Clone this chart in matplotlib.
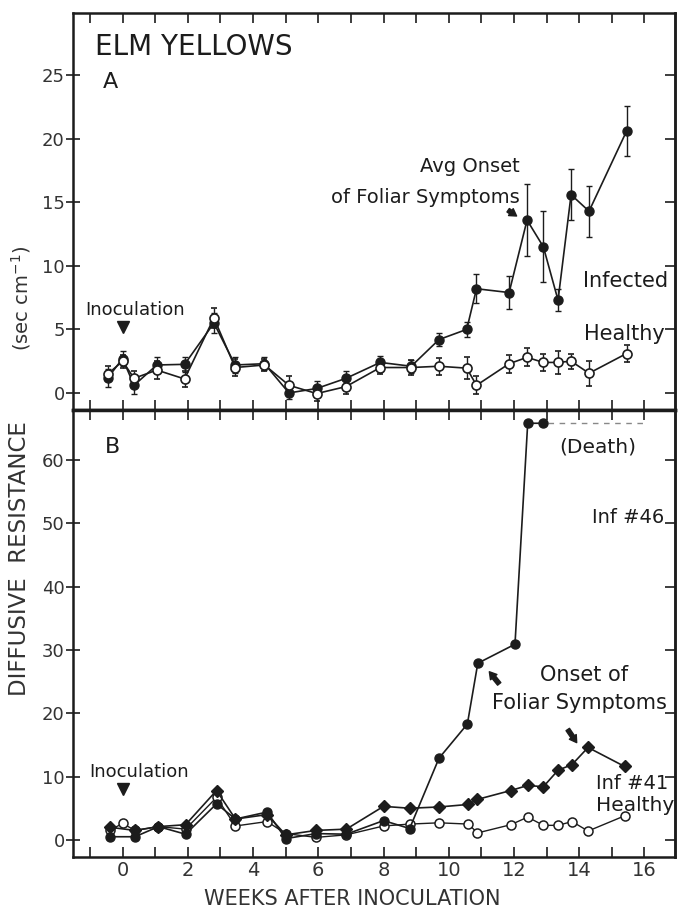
import numpy as np
import matplotlib
matplotlib.use('Agg')
from matplotlib import pyplot as plt

plt.rcParams['font.family'] = ['DejaVu Sans']

ink = '#1c1c1c'

# panel A: mean of infected / healthy trees, weeks after inoculation
weeks_a = [-0.45, 0, 0.35, 1.05, 1.9, 2.8, 3.45, 4.35, 5.1, 5.95, 6.85, 7.9,
           8.85, 9.7, 10.55, 10.85, 11.85, 12.4, 12.9, 13.35, 13.75, 14.3, 15.45]
infected_a = [1.2, 2.7, 0.6, 2.2, 2.25, 5.5, 2.2, 2.3, 0.0, 0.35, 1.15, 2.4,
              2.1, 4.2, 5.0, 8.2, 7.9, 13.6, 11.5, 7.3, 15.6, 14.3, 20.6]
infected_a_err = [0.7, 0.6, 0.7, 0.6, 0.6, 0.8, 0.6, 0.5, 0.5, 0.6, 0.6, 0.5,
                  0.5, 0.5, 0.6, 1.15, 1.3, 2.85, 2.8, 0.85, 2.0, 2.0, 1.95]
healthy_a = [1.5, 2.5, 1.15, 1.8, 1.1, 5.9, 2.0, 2.2, 0.6, -0.05, 0.5, 2.0,
             2.0, 2.1, 1.95, 0.6, 2.3, 2.8, 2.4, 2.4, 2.5, 1.55, 3.1]
healthy_a_err = [0.6, 0.5, 0.6, 0.7, 0.6, 0.8, 0.7, 0.5, 0.7, 0.6, 0.6, 0.5,
                 0.6, 0.65, 0.85, 0.7, 0.7, 0.7, 0.7, 0.9, 0.6, 1.0, 0.65]

# panel B: single trees
weeks_46 = [-0.4, 0.38, 1.1, 1.93, 2.88, 3.46, 4.43, 5.0, 5.93, 6.86, 8.0,
            8.8, 9.7, 10.57, 10.89, 12.03, 12.42, 12.9]
inf_46 = [0.5, 0.5, 2.1, 0.9, 5.7, 3.3, 4.4, 0.2, 1.0, 0.9, 3.05,
          1.8, 12.9, 18.3, 27.9, 30.9, 65.8, 65.8]
weeks_41 = [-0.4, 0.38, 1.1, 1.93, 2.88, 3.46, 4.43, 5.0, 5.93, 6.86, 8.0,
            8.8, 9.7, 10.6, 10.88, 11.9, 12.42, 12.9, 13.35, 13.78, 14.27, 15.39]
inf_41 = [2.0, 1.5, 2.1, 2.4, 7.8, 3.3, 4.0, 0.8, 1.5, 1.7, 5.3,
          5.0, 5.2, 5.6, 6.4, 7.8, 8.6, 8.4, 11.0, 11.9, 14.6, 11.6]
weeks_h = [-0.4, 0, 0.38, 1.1, 1.93, 2.88, 3.46, 4.43, 5.0, 5.93, 6.86, 8.0,
           8.8, 9.7, 10.6, 10.88, 11.9, 12.42, 12.9, 13.35, 13.78, 14.27, 15.39]
healthy_b = [1.5, 2.6, 1.5, 2.1, 1.7, 6.7, 2.2, 2.9, 1.0, 0.4, 0.8, 2.2,
             2.5, 2.7, 2.5, 1.1, 2.4, 3.6, 2.3, 2.3, 2.9, 1.4, 3.8]
death_level = 65.8
death_weeks = [13.05, 16.0]

fig = plt.figure(figsize=(6.85, 9.09), dpi=100)
ax1 = fig.add_axes([0.1066, 0.549, 0.879, 0.4367])
ax2 = fig.add_axes([0.1066, 0.0572, 0.879, 0.4918])

arrow = dict(arrowstyle='simple,head_width=0.6,head_length=0.5,tail_width=0.3', fc=ink, ec=ink)

# --- A ---
ax1.errorbar(weeks_a, infected_a, yerr=infected_a_err, color=ink, lw=1.2,
             marker='o', ms=6.5, mfc=ink, mec=ink, elinewidth=1, capsize=2.5, zorder=3)
ax1.errorbar(weeks_a, healthy_a, yerr=healthy_a_err, color=ink, lw=1.2,
             marker='o', ms=6.5, mfc='white', mec=ink, mew=1.2, elinewidth=1, capsize=2.5, zorder=4)
ax1.plot([0], [5.2], marker='v', ms=9, color=ink, ls='none')

ax1.text(-0.85, 27.2, 'ELM YELLOWS', fontsize=20, va='center', color=ink)
ax1.text(-0.6, 24.5, 'A', fontsize=16, va='center', color=ink)
ax1.text(-1.15, 6.5, 'Inoculation', fontsize=13, va='center', color=ink)
ax1.text(12.19, 17.8, 'Avg Onset', fontsize=14, ha='right', va='center', color=ink)
ax1.text(12.19, 15.4, 'of Foliar Symptoms', fontsize=14, ha='right', va='center', color=ink)
ax1.text(14.12, 8.8, 'Infected', fontsize=15, va='center', color=ink)
ax1.text(14.15, 4.6, 'Healthy', fontsize=15, va='center', color=ink)
ax1.annotate('', xy=(12.15, 13.8), xytext=(11.75, 14.5), arrowprops=arrow)

ax1.set_ylim(-1.34, 29.9)
ax1.set_yticks([0, 5, 10, 15, 20, 25])

# --- B ---
ax2.plot(weeks_h, healthy_b, color=ink, lw=1.0, marker='o', ms=6.5,
         mfc='white', mec=ink, mew=1.1, zorder=3)
ax2.plot(weeks_41, inf_41, color=ink, lw=1.2, marker='D', ms=6.5,
         mfc=ink, mec=ink, zorder=4)
ax2.plot(weeks_46, inf_46, color=ink, lw=1.2, marker='o', ms=6.5,
         mfc=ink, mec=ink, zorder=5)
ax2.plot(death_weeks, [death_level, death_level], color='#888888', lw=1, ls=(0, (4, 4)))
ax2.plot([0], [8.05], marker='v', ms=9, color=ink, ls='none')

ax2.text(-0.54, 62.1, 'B', fontsize=16, va='center', color=ink)
ax2.text(13.38, 62.1, '(Death)', fontsize=14.5, va='center', color=ink)
ax2.text(14.4, 50.9, 'Inf #46', fontsize=14, va='center', color=ink)
ax2.text(12.8, 26.1, 'Onset of', fontsize=15, va='center', color=ink)
ax2.text(11.33, 21.6, 'Foliar Symptoms', fontsize=15, va='center', color=ink)
ax2.text(14.52, 8.85, 'Inf #41', fontsize=14, va='center', color=ink)
ax2.text(14.52, 5.5, 'Healthy', fontsize=14.5, va='center', color=ink)
ax2.text(-1.03, 10.7, 'Inoculation', fontsize=13, va='center', color=ink)
ax2.annotate('', xy=(11.19, 26.9), xytext=(11.6, 24.3), arrowprops=arrow)
ax2.annotate('', xy=(13.97, 15.0), xytext=(13.6, 17.8), arrowprops=arrow)

ax2.set_ylim(-2.7, 67.9)
ax2.set_yticks([0, 10, 20, 30, 40, 50, 60])
ax2.set_xticks(np.arange(0, 17, 2))

for ax in (ax1, ax2):
    ax.set_xlim(-1.52, 16.94)
    ax.set_xticks(np.arange(-1, 17, 1), minor=True)
    ax.tick_params(axis='x', which='both', direction='in', top=True, bottom=True,
                   length=7, width=1.2, color=ink)
    ax.tick_params(axis='y', direction='inout', length=10, width=1.2, color=ink,
                   labelsize=13, labelcolor='#333333', pad=1)
    for s in ax.spines.values():
        s.set_linewidth(1.8)
        s.set_color(ink)
    sec = ax.secondary_yaxis('right')
    sec.set_yticks(ax.get_yticks())
    sec.tick_params(direction='in', length=7, width=1.2, color=ink, labelright=False)
    sec.spines['right'].set_linewidth(1.8)
    sec.spines['right'].set_color(ink)

ax1.set_xticks([])
ax1.set_xticks(np.arange(-1, 17, 1), minor=True)
ax1.spines['bottom'].set_linewidth(2.5)
ax2.spines['top'].set_linewidth(2.5)
ax2.tick_params(axis='x', which='major', labelsize=14, labelcolor='#333333', pad=3)

fig.text(0.514, 0.011, 'WEEKS AFTER INOCULATION', fontsize=15, ha='center', va='center',
         color='#333333')
fig.text(0.029, 0.386, 'DIFFUSIVE  RESISTANCE', rotation=90, fontsize=16.5,
         ha='center', va='center', color='#333333')
fig.text(0.031, 0.672, '(sec cm$^{-1}$)', rotation=90, fontsize=14,
         ha='center', va='center', color='#333333')

fig.savefig('out.png', dpi=100)
